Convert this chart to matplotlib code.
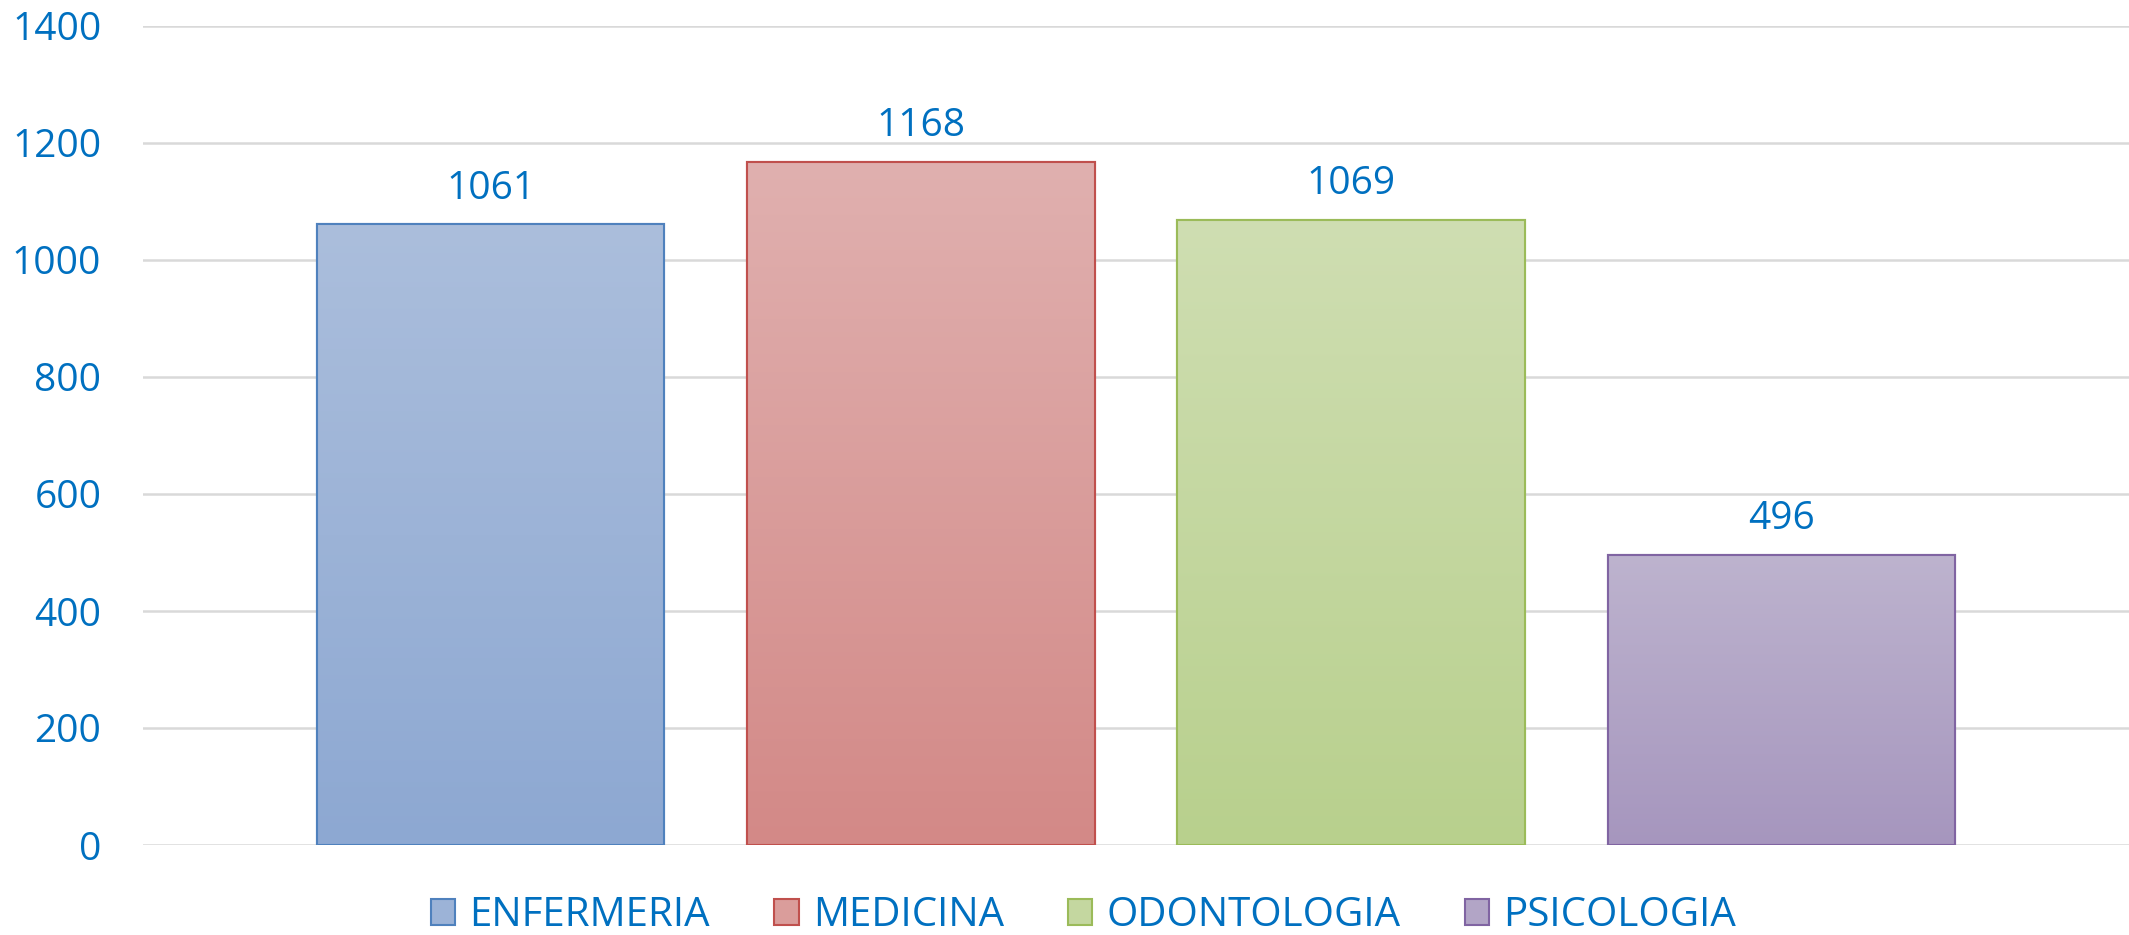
import numpy as np
import matplotlib
matplotlib.use("Agg")
import matplotlib.pyplot as plt
from matplotlib.colors import LinearSegmentedColormap

categories = ["ENFERMERIA", "MEDICINA", "ODONTOLOGIA", "PSICOLOGIA"]
values = [1061, 1168, 1069, 496]
top_colors = ["#ABBEDC", "#E0B0AF", "#CFDEB2", "#BDB3CE"]
bottom_colors = ["#8DA8D2", "#D38987", "#B8D08D", "#A696BE"]
edge_colors = ["#4F81BD", "#C0504D", "#9BBB59", "#8064A2"]
yticks = [0, 200, 400, 600, 800, 1000, 1200, 1400]

TXT = "#0070C0"
plt.rcParams['font.family'] = ['Open Sans', 'DejaVu Sans']

fig = plt.figure(figsize=(21.29, 9.35), dpi=100)
ax = fig.add_axes([143/2129, 1 - 845/935, 1 - 143/2129, (845 - 26)/935])

x = np.arange(len(categories))
width = 0.808
bars = []
for i, (cat, v) in enumerate(zip(categories, values)):
    mid = LinearSegmentedColormap.from_list("m", [bottom_colors[i], top_colors[i]])(0.5)
    b = ax.bar(x[i], v, width=width, color=mid, edgecolor=edge_colors[i],
               linewidth=1.5, label=cat, zorder=3)
    bars.append(b)
    patch = b.patches[0]
    cmap = LinearSegmentedColormap.from_list("g", [bottom_colors[i], top_colors[i]])
    grad = np.linspace(0, 1, 256).reshape(-1, 1)
    im = ax.imshow(grad, cmap=cmap, aspect='auto', origin='lower',
                   extent=[x[i] - width/2, x[i] + width/2, 0, v], zorder=3.5)
    im.set_clip_path(patch)
    ax.bar(x[i], v, width=width, fill=False, edgecolor=edge_colors[i],
           linewidth=1.5, zorder=4)
    ax.annotate(str(v), (x[i], v), xytext=(0, 12), textcoords='offset points',
                ha='center', va='bottom', color=TXT, fontsize=28, zorder=5)

ax.set_xlim(-0.808, 3.808)
ax.set_ylim(0, 1400)
ax.set_yticks(yticks)
ax.set_yticklabels([str(t) for t in yticks], color=TXT, fontsize=28)
ax.tick_params(axis='y', length=0, pad=30)
ax.set_xticks([])
for s in ax.spines.values():
    s.set_visible(False)
ax.grid(axis='y', color='#D9D9D9', linewidth=1.8, zorder=0)
ax.set_axisbelow(True)

leg = fig.legend(handles=[b.patches[0] for b in bars], labels=categories,
                 loc='center', bbox_to_anchor=(0.509, 1 - 916/935), ncol=4,
                 frameon=False, fontsize=29, handlelength=0.6, handleheight=0.6,
                 columnspacing=1.6, handletextpad=0.35, borderpad=0.1)
for t in leg.get_texts():
    t.set_color(TXT)

fig.savefig("out.png", dpi=100)
